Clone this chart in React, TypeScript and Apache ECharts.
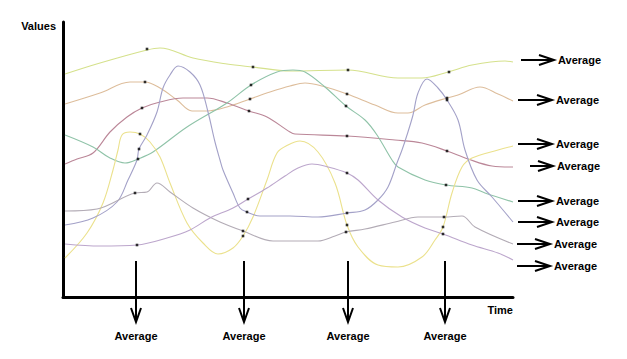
import React, { useEffect, useRef } from "react";
import * as echarts from "echarts";

// Time runs 0..450, values 0..275
const limeCurve = [[2,223],[37,234],[84,247],[97,249],[130,239],[164,233],[190,230],[227,226],[285,227],[335,219],[359,219],[385,225],[409,232],[442,236],[450,235]];
const tanCurve = [[2,193],[37,204],[67,215],[82,215],[97,209],[114,197],[129,186],[144,186],[164,190],[187,198],[207,205],[227,211],[242,214],[259,211],[284,203],[312,192],[335,184],[345,184],[362,192],[384,199],[395,202],[417,210],[435,203],[450,196]];
const maroonCurve = [[2,133],[14,138],[30,144],[47,165],[64,180],[79,189],[97,195],[120,199],[144,199],[164,194],[186,186],[204,180],[227,165],[232,163],[284,161],[332,157],[359,154],[384,146],[405,138],[429,131],[450,130]];
const greenCurve = [[2,162],[30,150],[47,139],[62,134],[75,138],[90,145],[124,170],[164,194],[188,212],[214,225],[230,227],[242,225],[262,210],[283,191],[302,177],[314,162],[329,137],[335,130],[362,117],[383,112],[409,109],[422,104],[450,95]];
const yellowCurve = [[2,39],[24,64],[40,94],[50,127],[55,147],[59,162],[67,165],[77,163],[87,155],[97,140],[107,114],[124,74],[140,54],[155,43],[170,49],[180,61],[190,80],[204,117],[214,144],[225,152],[237,156],[255,145],[272,114],[284,72],[295,50],[315,32],[335,30],[359,40],[372,57],[380,70],[389,104],[399,130],[409,139],[435,147],[450,151]];
const blueCurve = [[2,72],[30,79],[54,95],[65,117],[74,137],[76,148],[84,162],[94,185],[100,209],[107,222],[115,231],[127,225],[137,212],[145,185],[152,155],[157,137],[160,127],[170,104],[177,89],[184,85],[197,81],[227,81],[255,80],[284,84],[302,87],[315,97],[325,110],[334,134],[339,147],[344,162],[350,182],[355,204],[364,218],[375,209],[384,197],[395,177],[402,147],[414,117],[429,100],[450,75]];
const grayCurve = [[2,86],[34,88],[72,104],[84,105],[94,114],[107,105],[130,89],[157,75],[180,66],[210,56],[227,56],[255,56],[272,61],[283,65],[302,68],[332,75],[355,80],[381,80],[399,81],[412,70],[450,53]];
const purpleCurve = [[2,53],[37,51],[74,52],[104,59],[127,67],[147,79],[170,89],[185,98],[204,109],[222,121],[235,129],[249,133],[265,130],[284,124],[295,117],[315,97],[339,80],[362,69],[380,63],[409,52],[435,44],[450,37]];

// Sample points marked on each curve at the four averaging times
const limeDots = [[84,248],[190,230],[285,227],[386,225]];
const tanDots = [[82,215],[187,198],[284,203],[384,199]];
const maroonDots = [[79,189],[186,186],[284,161],[384,146]];
const greenDots = [[75,138],[188,212],[283,191],[383,112]];
const yellowDots = [[77,163],[180,61],[284,72],[380,70]];
const blueDots = [[76,148],[184,85],[284,84],[384,197]];
const grayDots = [[72,104],[180,66],[283,65],[381,80]];
const purpleDots = [[74,52],[185,98],[284,124],[380,63]];

const curveNames = ["lime", "tan", "maroon", "green", "yellow", "blue", "gray", "purple"];
const curveColors = ["#d5e18c", "#ddbd9b", "#bb8798", "#8fc3a8", "#ebe18c", "#a3a1c8", "#b3acb6", "#bca6cc"];
const curves = [limeCurve, tanCurve, maroonCurve, greenCurve, yellowCurve, blueCurve, grayCurve, purpleCurve];
const dots = [limeDots, tanDots, maroonDots, greenDots, yellowDots, blueDots, grayDots, purpleDots];

const averageLabel = "Average";
const xAxisName = "Time";
const yAxisName = "Values";

export default function App() {
  const ref = useRef<HTMLDivElement>(null);
  useEffect(() => {
    const chart = echarts.init(ref.current!, null, { renderer: "svg" });
    const font = "bold 11px 'Liberation Sans', Arial, sans-serif";

    const downX = [136, 244, 348, 445];
    const rightArrows = [
      { y: 60, x1: 521, lx: 558 },
      { y: 100, x1: 518, lx: 556 },
      { y: 144, x1: 518, lx: 556 },
      { y: 166, x1: 530, lx: 557 },
      { y: 201, x1: 518, lx: 556 },
      { y: 222, x1: 518, lx: 556 },
      { y: 244, x1: 517, lx: 554 },
      { y: 266, x1: 517, lx: 554 },
    ];
    const graphics: any[] = [];
    downX.forEach((x) => {
      graphics.push({ type: "line", shape: { x1: x, y1: 261, x2: x, y2: 321 }, style: { stroke: "#000", lineWidth: 2 } });
      graphics.push({ type: "polyline", shape: { points: [[x - 5, 308], [x, 322], [x + 5, 308]] }, style: { stroke: "#000", lineWidth: 2, fill: null } });
      graphics.push({ type: "text", x, y: 336, style: { text: averageLabel, font, fill: "#000", align: "center", verticalAlign: "middle" } });
    });
    rightArrows.forEach((a) => {
      const tip = a.lx - 4;
      graphics.push({ type: "line", shape: { x1: a.x1, y1: a.y, x2: tip, y2: a.y }, style: { stroke: "#000", lineWidth: 2 } });
      graphics.push({ type: "polyline", shape: { points: [[tip - 15, a.y - 5], [tip, a.y], [tip - 15, a.y + 5]] }, style: { stroke: "#000", lineWidth: 2, fill: null } });
      graphics.push({ type: "text", x: a.lx, y: a.y, style: { text: averageLabel, font, fill: "#000", align: "left", verticalAlign: "middle" } });
    });

    const series: any[] = [];
    curves.forEach((c, i) => {
      series.push({
        name: curveNames[i], type: "line", data: c, smooth: 0.35, showSymbol: false, symbol: "none",
        lineStyle: { color: curveColors[i], width: 1.1 }, silent: true, z: 2, clip: false,
      });
    });
    dots.forEach((d, i) => {
      series.push({
        name: curveNames[i] + " samples", type: "scatter", data: d, symbol: "rect", symbolSize: 2.6,
        itemStyle: { color: "#000" }, silent: true, z: 3,
      });
    });

    chart.setOption({
      animation: false,
      backgroundColor: "#fff",
      grid: { left: 63, top: 22, right: 114, bottom: 62, containLabel: false },
      xAxis: {
        type: "value", min: 0, max: 450,
        axisLine: { show: true, onZero: false, lineStyle: { color: "#000", width: 3 } },
        axisTick: { show: false }, axisLabel: { show: false }, splitLine: { show: false },
        name: xAxisName, nameLocation: "end", nameGap: 0,
        nameTextStyle: { color: "#000", fontWeight: "bold", fontSize: 11, fontFamily: "'Liberation Sans', Arial, sans-serif", align: "right", verticalAlign: "top", padding: [7, 0, 0, 0] },
      },
      yAxis: {
        type: "value", min: 0, max: 275,
        axisLine: { show: true, onZero: false, lineStyle: { color: "#000", width: 3 } },
        axisTick: { show: false }, axisLabel: { show: false }, splitLine: { show: false },
        name: yAxisName, nameLocation: "end", nameGap: -4,
        nameTextStyle: { color: "#000", fontWeight: "bold", fontSize: 11, fontFamily: "'Liberation Sans', Arial, sans-serif", align: "right", verticalAlign: "middle", padding: [0, 7, 0, 0] },
      },
      series,
      graphic: graphics,
    });
    return () => chart.dispose();
  }, []);
  return <div ref={ref} style={{ position: "fixed", left: 0, top: 0, width: 627, height: 359, background: "#fff" }} />;
}
